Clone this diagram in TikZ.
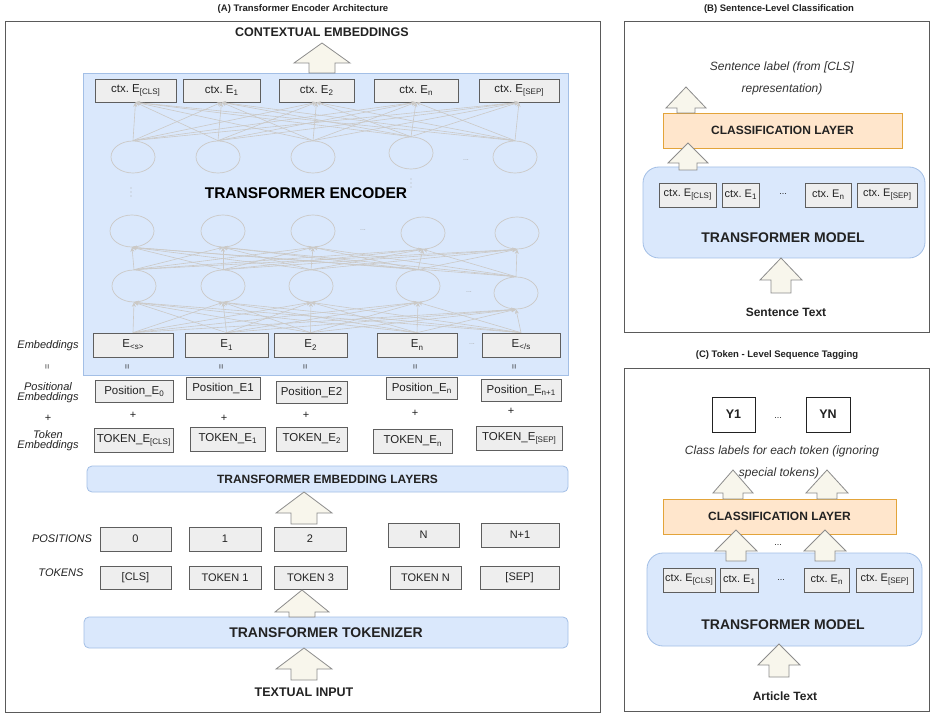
\documentclass[tikz,border=0pt]{standalone}
\usepackage{fontspec}
\setmainfont{Liberation Sans}
\usetikzlibrary{shapes.geometric,arrows.meta}
\definecolor{gfill}{HTML}{EEEEEE}
\definecolor{gdraw}{HTML}{5E5E5E}
\definecolor{bfill}{HTML}{DAE8FC}
\definecolor{bdraw}{HTML}{A3BFE6}
\definecolor{ofill}{HTML}{FFE6CC}
\definecolor{odraw}{HTML}{E3A43A}
\definecolor{afill}{HTML}{F8F6EC}
\definecolor{adraw}{HTML}{8C8C8C}
\definecolor{lgray}{HTML}{CBC9C6}
\definecolor{fgray}{HTML}{5A5A5A}
\definecolor{tx}{HTML}{222222}
\definecolor{itx}{HTML}{333333}
\frenchspacing
\newcommand\fsz[1]{\fontsize{#1}{#1}\selectfont}
\newcommand\lo[1]{\raisebox{-0.35ex}{\fontsize{8}{8}\selectfont #1}}
\newcommand\uparr[6]{%
  \draw[barrow] (#1-#6,#4) -- (#1-#6,#3) -- (#1-#5,#3) -- (#1,#2) -- (#1+#5,#3) -- (#1+#6,#3) -- (#1+#6,#4) -- cycle;}
\begin{document}
\begin{tikzpicture}[x=1pt,y=-1pt,
  wh/.style 2 args={minimum width=#1pt, minimum height=#2pt},
  gbox/.style={draw=gdraw, fill=gfill, line width=0.7pt, inner sep=0pt, font=\fsz{11.5}, text=tx},
  cbox/.style={draw=gdraw, fill=gfill, line width=0.7pt, inner sep=0pt, font=\fsz{11}, text=tx},
  sbox/.style={draw=gdraw, fill=gfill, line width=0.7pt, inner sep=0pt, font=\fsz{11}, text=tx},
  ybox/.style={draw=tx, fill=white, line width=0.8pt, inner sep=0pt, font=\bfseries\fsz{12.5}, text=tx},
  bluebox/.style={draw=bdraw, fill=bfill, line width=0.8pt, inner sep=0pt},
  rbar/.style={draw=bdraw, fill=bfill, line width=0.8pt, rounded corners=5pt, inner sep=0pt},
  mbox/.style={draw=bdraw, fill=bfill, line width=0.8pt, rounded corners=16pt, inner sep=0pt},
  obox/.style={draw=odraw, fill=ofill, line width=0.8pt, inner sep=0pt},
  frame/.style={draw=fgray, line width=0.9pt},
  ttl/.style={font=\bfseries\fsz{9.5}, text=tx},
  hdr/.style={font=\bfseries\fsz{12.5}, text=tx},
  lbl/.style={font=\itshape\fsz{11}, text=tx, align=center},
  itl/.style={font=\itshape\fsz{12}, text=itx},
  circ/.style={ellipse, draw=lgray, line width=0.7pt, minimum width=44pt, minimum height=32pt, inner sep=0pt},
  conn/.style={draw=lgray, line width=0.6pt, -{Stealth[length=4.5pt,width=4pt]}},
  barrow/.style={draw=adraw, fill=afill, line width=0.8pt, line join=miter},
  dts/.style={font=\fsz{7}, text=gray!70},
  eq/.style={rotate=90, font=\fsz{9}, text=tx}
]
\useasboundingbox (0,0) rectangle (930,714);
\fill[white] (0,0) rectangle (930,714);

%================ Panel A ================
\node[ttl] (tA) at (303,9) {(A) Transformer Encoder Architecture};
\draw[frame] (5,21) rectangle (600,712);
\node[hdr] (ctxt) at (322,32) {CONTEXTUAL EMBEDDINGS};
\node[bluebox, wh={485}{302}] (enc) at (325.5,224) {};
\uparr{322}{43}{63}{73}{28}{13}

% contextual embedding boxes
\node[gbox, wh={81}{23}] (cx1) at (135.5,90.5) {ctx. E\lo{[CLS]}};
\node[gbox, wh={77}{23}] (cx2) at (221.5,90.5) {ctx. E\lo{1}};
\node[gbox, wh={75}{23}] (cx3) at (316.5,90.5) {ctx. E\lo{2}};
\node[gbox, wh={84}{23}] (cx4) at (416,90.5) {ctx. E\lo{n}};
\node[gbox, wh={80}{23}] (cx5) at (519,90.5) {ctx. E\lo{[SEP]}};

% neurons
\foreach \n/\x/\y in {1/133/157, 2/218/157, 3/313/157, 4/411/153, 5/515/157}
  \node[circ] (ra\n) at (\x,\y) {};
\foreach \n/\x/\y in {1/132/231, 2/223/231, 3/313/231, 4/423/233, 5/517/233}
  \node[circ] (rb\n) at (\x,\y) {};
\foreach \n/\x/\y in {1/134/286, 2/223/286, 3/311/286, 4/418/286, 5/516/293}
  \node[circ] (rc\n) at (\x,\y) {};

\node[dts] (d1) at (466,160) {...};
\node[dts] (d2) at (363,230) {...};
\node[dts] (d3) at (469,292) {...};
\foreach \yy in {188,192,196} \fill[gray!60] (131,\yy) circle (0.6pt);
\foreach \yy in {179,183,187} \fill[gray!60] (411,\yy) circle (0.6pt);

\node[font=\bfseries\fsz{15.5}, text=black] (encl) at (306,193) {TRANSFORMER ENCODER};

% embeddings boxes
\node[gbox, wh={80}{24}] (eb1) at (133,345) {E\lo{<s>}};
\node[gbox, wh={83}{24}] (eb2) at (226.5,345) {E\lo{1}};
\node[gbox, wh={73}{24}] (eb3) at (310.5,345) {E\lo{2}};
\node[gbox, wh={80}{24}] (eb4) at (417,345) {E\lo{n}};
\node[gbox, wh={78}{24}] (eb5) at (521,345) {E\lo{</s}};
\node[dts] (d4) at (472,344) {...};

% connections
\foreach \i in {1,...,5} \foreach \j in {1,...,5} {
  \draw[conn] (ra\i.north) -- (cx\j.south);
  \draw[conn] (rc\i.north) -- (rb\j.south);
  \draw[conn] (eb\i.north) -- (rc\j.south);
}

% side labels
\node[lbl] (lemb) at (48,346) {Embeddings};
\node[eq] (eq0) at (48,367) {=};
\node[lbl] (lpos) at (48,393) {Positional\\[-1pt]Embeddings};
\node[font=\fsz{11}, text=tx] (pl0) at (48,418) {+};
\node[lbl] (ltok) at (48,441) {Token\\[-1pt]Embeddings};

\foreach \n/\x in {1/128, 2/222, 3/306, 4/416, 5/515}
  \node[eq] (eq\n) at (\x,367) {=};

% positional embeddings
\node[gbox, wh={78}{22}] (pe1) at (134,391) {Position\_E\lo{0}};
\node[gbox, wh={74}{22}] (pe2) at (223,388) {Position\_E1};
\node[gbox, wh={71}{22}] (pe3) at (311.5,392) {Position\_E2};
\node[gbox, wh={71}{22}] (pe4) at (421.5,388.5) {Position\_E\lo{n}};
\node[gbox, wh={80}{22}] (pe5) at (521,390.5) {Position\_E\lo{n+1}};

\foreach \n/\x/\y in {1/133/415, 2/224/418, 3/306/415, 4/415/413, 5/511/411}
  \node[font=\fsz{11}, text=tx] (pl\n) at (\x,\y) {+};

% token embeddings
\node[gbox, wh={79}{24}] (te1) at (133.5,440.5) {TOKEN\_E\lo{[CLS]}};
\node[gbox, wh={75}{24}] (te2) at (227.5,439) {TOKEN\_E\lo{1}};
\node[gbox, wh={71}{24}] (te3) at (311.5,439) {TOKEN\_E\lo{2}};
\node[gbox, wh={79}{24}] (te4) at (412.5,441) {TOKEN\_E\lo{n}};
\node[gbox, wh={86}{24}] (te5) at (519,438.5) {TOKEN\_E\lo{[SEP]}};

% embedding layers bar
\node[rbar, wh={481}{26}, font=\bfseries\fsz{12}, text=tx] (embl) at (327.5,479) {TRANSFORMER EMBEDDING LAYERS};
\uparr{304}{492}{513}{524}{28}{13}

% positions
\node[lbl] (lposs) at (62,539) {POSITIONS};
\node[sbox, wh={71}{24}] (p1) at (135.5,539) {0};
\node[sbox, wh={72}{24}] (p2) at (225,539) {1};
\node[sbox, wh={72}{24}] (p3) at (310,539) {2};
\node[sbox, wh={71}{24}] (p4) at (423.5,535) {N};
\node[sbox, wh={78}{24}] (p5) at (520,535) {N+1};

% tokens
\node[lbl] (ltoks) at (61,573) {TOKENS};
\node[sbox, wh={71}{23}] (t1) at (135.5,577.5) {[CLS]};
\node[sbox, wh={72}{23}] (t2) at (225,577.5) {TOKEN 1};
\node[sbox, wh={73}{23}] (t3) at (310.5,577.5) {TOKEN 3};
\node[sbox, wh={71}{23}] (t4) at (425.5,577.5) {TOKEN N};
\node[sbox, wh={79}{23}] (t5) at (519.5,577.5) {[SEP]};

% tokenizer
\node[rbar, wh={484}{31}, font=\bfseries\fsz{14}, text=tx] (tokz) at (326,632.5) {TRANSFORMER TOKENIZER};
\uparr{302}{590}{612}{617}{27}{13}
\uparr{304}{648}{669}{680}{28}{13}
\node[hdr] (tin) at (304,692) {TEXTUAL INPUT};

%================ Panel B ================
\node[ttl] (tB) at (779,9) {(B) Sentence-Level Classification};
\draw[frame] (624,21) rectangle (929,332);
\node[itl] (sl1) at (782,67) {Sentence label (from [CLS]};
\node[itl] (sl2) at (782,89) {representation)};
\node[obox, wh={239}{35}, font=\bfseries\fsz{12}, text=tx] (clB) at (782.5,130.5) {CLASSIFICATION LAYER};
\uparr{686}{87}{108}{113}{20}{9}
\node[mbox, wh={282}{91}] (mB) at (784,212.5) {};
\node[cbox, wh={57}{24}] (bc1) at (687.5,195) {ctx. E\lo{[CLS]}};
\node[cbox, wh={37}{24}] (bc2) at (740.5,195) {ctx. E\lo{1}};
\node[font=\fsz{9}, text=tx] (bd) at (783,194) {...};
\node[cbox, wh={46}{24}] (bc3) at (828,195) {ctx. E\lo{n}};
\node[cbox, wh={60}{24}] (bc4) at (887,195) {ctx. E\lo{[SEP]}};
\node[font=\bfseries\fsz{14}, text=tx] (mlB) at (783,238) {TRANSFORMER MODEL};
\uparr{688}{143}{163}{170}{20}{9}
\uparr{781}{258}{280}{293}{21}{10}
\node[font=\bfseries\fsz{12}, text=tx] (stB) at (786,312) {Sentence Text};

%================ Panel C ================
\node[ttl] (tC) at (777,355) {(C) Token - Level Sequence Tagging};
\draw[frame] (624,368) rectangle (929,711);
\node[ybox, wh={43}{35}] (y1) at (733.5,414.5) {Y1};
\node[font=\fsz{9}, text=tx] (yd) at (778,418) {...};
\node[ybox, wh={44}{35}] (yn) at (828,414.5) {YN};
\node[itl] (cl1) at (782,451) {Class labels for each token (ignoring};
\node[itl] (cl2) at (779,473) {special tokens)};
\node[obox, wh={233}{35}, font=\bfseries\fsz{12}, text=tx] (clC) at (779.5,516.5) {CLASSIFICATION LAYER};
\uparr{733}{470}{493}{499}{20}{10}
\uparr{827}{470}{493}{499}{21}{10}
\node[mbox, wh={275}{93}] (mC) at (784.5,599.5) {};
\node[cbox, wh={52}{24}] (cc1) at (689,580) {ctx. E\lo{[CLS]}};
\node[cbox, wh={38}{24}] (cc2) at (739,580) {ctx. E\lo{1}};
\node[font=\fsz{9}, text=tx] (cd) at (781,580) {...};
\node[cbox, wh={45}{24}] (cc3) at (826.5,580) {ctx. E\lo{n}};
\node[cbox, wh={57}{24}] (cc4) at (884.5,580) {ctx. E\lo{[SEP]}};
\node[font=\bfseries\fsz{14}, text=tx] (mlC) at (783,625) {TRANSFORMER MODEL};
\uparr{736}{530}{551}{561}{21}{10}
\uparr{825}{530}{551}{561}{21}{10}
\node[font=\fsz{9}, text=tx] (ad) at (778,545) {...};
\uparr{779}{644}{665}{677}{21}{10}
\node[font=\bfseries\fsz{12}, text=tx] (atC) at (785,696) {Article Text};
\end{tikzpicture}
\end{document}
